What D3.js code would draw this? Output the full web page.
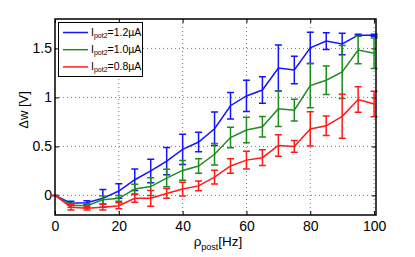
<!DOCTYPE html>
<html>
<head>
<meta charset="utf-8">
<script src="https://d3js.org/d3.v7.min.js"></script>
<style>
  body { margin: 0; background: #fff; }
  svg { display: block; font-family: 'Liberation Sans', Arial, sans-serif; }
</style>
</head>
<body>
<div id="chart"></div>
<script>
'use strict';

// firing rate of the post neuron [Hz]
var rates = [0, 5, 10, 15, 20, 25, 30, 35, 40, 45, 50, 55, 60, 65, 70, 75, 80, 85, 90, 95, 100];

var dw12 = [0, -0.08, -0.075, -0.03, 0.045, 0.16, 0.25, 0.35, 0.47, 0.545, 0.68, 0.915, 1.015, 1.075, 1.30, 1.28, 1.505, 1.575, 1.545, 1.635, 1.635];
var err12 = [0, 0.02, 0.02, 0.09, 0.075, 0.11, 0.12, 0.14, 0.155, 0.1, 0.17, 0.135, 0.16, 0.135, 0.235, 0.14, 0.16, 0.085, 0.11, 0.01, 0.01];

var dw10 = [0, -0.10, -0.105, -0.045, -0.03, 0.065, 0.09, 0.177, 0.255, 0.30, 0.42, 0.59, 0.667, 0.70, 0.883, 0.87, 1.12, 1.175, 1.26, 1.484, 1.45];
var err10 = [0, 0.02, 0.02, 0.04, 0.03, 0.05, 0.09, 0.09, 0.1, 0.075, 0.11, 0.105, 0.13, 0.105, 0.18, 0.11, 0.225, 0.145, 0.27, 0.14, 0.155];

var dw08 = [0, -0.12, -0.13, -0.12, -0.105, -0.03, -0.03, 0.02, 0.065, 0.097, 0.187, 0.30, 0.36, 0.385, 0.51, 0.50, 0.678, 0.71, 0.807, 0.978, 0.932];
var err08 = [0, 0.03, 0.02, 0.03, 0.03, 0.04, 0.08, 0.05, 0.07, 0.05, 0.07, 0.075, 0.09, 0.08, 0.11, 0.06, 0.175, 0.1, 0.225, 0.13, 0.13];

var seriesNames = ['=1.2\u00b5A', '=1.0\u00b5A', '=0.8\u00b5A'];
var seriesColors = ['#1414ff', '#1e8c1e', '#ff1a1a'];

var xTicks = [0, 20, 40, 60, 80, 100];
var yTicks = [0, 0.5, 1, 1.5];

var chartWidth = 415, chartHeight = 257;
var plotLeft = 55, plotRight = 376, plotTop = 19, plotBottom = 215;

var svg = d3.select('#chart')
            .append('svg')
            .attr('width', chartWidth)
            .attr('height', chartHeight);

var x = d3.scaleLinear().domain([0, 100.6]).range([plotLeft, plotRight]);
var y = d3.scaleLinear().domain([-0.2, 1.8]).range([plotBottom, plotTop]);

// dotted grid
svg.append('g')
   .selectAll('line')
   .data(xTicks.slice(1))
   .join('line')
   .attr('x1', function(d) { return x(d); })
   .attr('x2', function(d) { return x(d); })
   .attr('y1', plotTop)
   .attr('y2', plotBottom)
   .attr('stroke', '#777')
   .attr('stroke-width', 1)
   .attr('stroke-dasharray', '1,3');

svg.append('g')
   .selectAll('line')
   .data(yTicks)
   .join('line')
   .attr('x1', plotLeft)
   .attr('x2', plotRight)
   .attr('y1', function(d) { return y(d); })
   .attr('y2', function(d) { return y(d); })
   .attr('stroke', '#777')
   .attr('stroke-width', 1)
   .attr('stroke-dasharray', '1,3');

// axes, ticks pointing inwards on all four sides
var fmt = function(d) { return d3.format('')(d); };

var styleAxis = function(g) {
  g.select('.domain').remove();
  g.selectAll('.tick line').attr('stroke', '#000').attr('stroke-width', 1);
  g.selectAll('.tick text')
   .attr('fill', '#000')
   .style('font-size', '14px');
};

svg.append('g')
   .attr('transform', 'translate(0,' + plotBottom + ')')
   .call(d3.axisBottom(x).tickValues(xTicks).tickFormat(fmt).tickSize(-4).tickPadding(6))
   .call(styleAxis);

svg.append('g')
   .attr('transform', 'translate(0,' + plotTop + ')')
   .call(d3.axisTop(x).tickValues(xTicks).tickFormat('').tickSize(-4))
   .call(styleAxis);

svg.append('g')
   .attr('transform', 'translate(' + plotLeft + ',0)')
   .call(d3.axisLeft(y).tickValues(yTicks).tickFormat(fmt).tickSize(-4).tickPadding(3))
   .call(styleAxis);

svg.append('g')
   .attr('transform', 'translate(' + plotRight + ',0)')
   .call(d3.axisRight(y).tickValues(yTicks).tickFormat('').tickSize(-4))
   .call(styleAxis);

// series with error bars
var series = [
  { values: dw12, errors: err12 },
  { values: dw10, errors: err10 },
  { values: dw08, errors: err08 }
];

var line = d3.line()
             .x(function(d) { return x(d[0]); })
             .y(function(d) { return y(d[1]); });

series.forEach(function(s, i) {
  var pts = rates.map(function(r, j) { return [r, s.values[j], s.errors[j]]; });
  var g = svg.append('g');
  var color = seriesColors[i];

  g.selectAll('.bar')
   .data(pts)
   .join('path')
   .attr('d', function(d) {
     var cx = x(d[0]), y0 = y(d[1] - d[2]), y1 = y(d[1] + d[2]);
     return 'M' + cx + ',' + y0 + 'V' + y1 +
            'M' + (cx - 3.5) + ',' + y0 + 'H' + (cx + 3.5) +
            'M' + (cx - 3.5) + ',' + y1 + 'H' + (cx + 3.5);
   })
   .attr('fill', 'none')
   .attr('stroke', color)
   .attr('stroke-width', 1.5);

  g.append('path')
   .datum(pts)
   .attr('d', line)
   .attr('fill', 'none')
   .attr('stroke', color)
   .attr('stroke-width', 1.5);
});

// frame
svg.append('rect')
   .attr('x', plotLeft)
   .attr('y', plotTop)
   .attr('width', plotRight - plotLeft)
   .attr('height', plotBottom - plotTop)
   .attr('fill', 'none')
   .attr('stroke', '#000')
   .attr('stroke-width', 1.5);

// legend
var legend = svg.append('g');

legend.append('rect')
      .attr('x', 58.5)
      .attr('y', 22.5)
      .attr('width', 84)
      .attr('height', 54)
      .attr('fill', '#fff')
      .attr('stroke', '#000')
      .attr('stroke-width', 1);

seriesNames.forEach(function(name, i) {
  var ly = 32.5 + i * 17.2;
  legend.append('line')
        .attr('x1', 63)
        .attr('x2', 88)
        .attr('y1', ly)
        .attr('y2', ly)
        .attr('stroke', seriesColors[i])
        .attr('stroke-width', 1.5);

  var t = legend.append('text')
                .attr('x', 91)
                .attr('y', ly + 3)
                .style('font-size', '10.5px')
                .attr('fill', '#000');
  t.append('tspan').text('I');
  t.append('tspan').attr('dy', 2.5).style('font-size', '7px').text('pot2');
  t.append('tspan').attr('dy', -2.5).text(name);
});

// axis labels
svg.append('text')
   .attr('transform', 'translate(28,110) rotate(-90)')
   .attr('text-anchor', 'middle')
   .style('font-size', '13px')
   .text('\u0394w [V]');

var xl = svg.append('text')
            .attr('x', 218)
            .attr('y', 246)
            .attr('text-anchor', 'middle')
            .style('font-size', '13.5px');
xl.append('tspan').text('\u03c1');
xl.append('tspan').attr('dy', 4).style('font-size', '9px').text('post');
xl.append('tspan').attr('dy', -4).text('[Hz]');
</script>
</body>
</html>
